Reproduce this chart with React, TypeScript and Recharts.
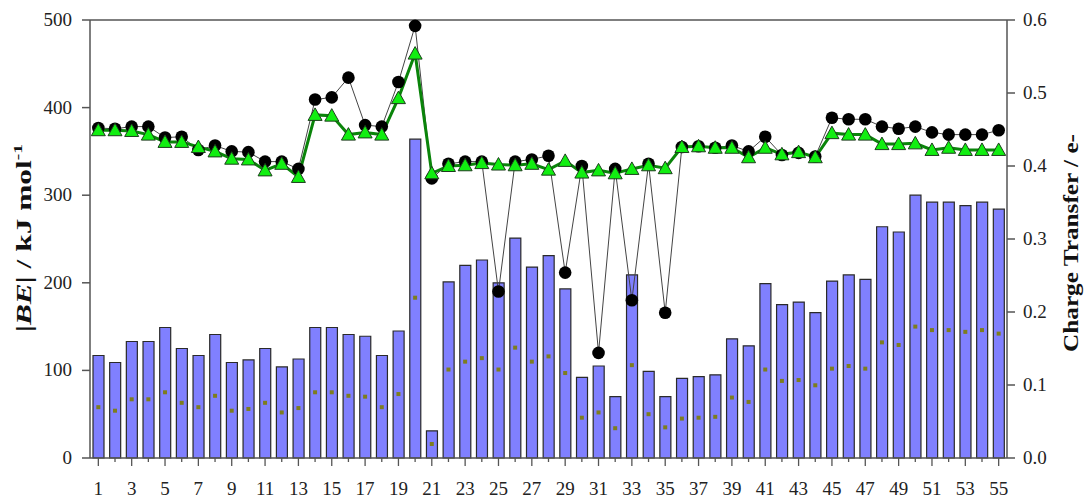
import {
	Bar,
	ComposedChart,
	Line,
	ReferenceLine,
	XAxis,
	YAxis,
} from 'recharts'

const categories = [
	'1', '2', '3', '4', '5', '6', '7', '8', '9', '10',
	'11', '12', '13', '14', '15', '16', '17', '18', '19', '20',
	'21', '22', '23', '24', '25', '26', '27', '28', '29', '30',
	'31', '32', '33', '34', '35', '36', '37', '38', '39', '40',
	'41', '42', '43', '44', '45', '46', '47', '48', '49', '50',
	'51', '52', '53', '54', '55',
]

const tickLabels = [
	'1', '3', '5', '7', '9', '11', '13', '15', '17', '19', '21', '23', '25', '27',
	'29', '31', '33', '35', '37', '39', '41', '43', '45', '47', '49', '51', '53', '55',
]

// |BE| in kJ/mol (bars)
const bindingEnergy = [
	117, 109, 133, 133, 149, 125, 117, 141, 109, 112,
	125, 104, 113, 149, 149, 141, 139, 117, 145, 364,
	31, 201, 220, 226, 200, 251, 218, 231, 193, 92,
	105, 70, 209, 99, 70, 91, 93, 95, 136, 128,
	199, 175, 178, 166, 202, 209, 204, 264, 258, 300,
	292, 292, 288, 292, 284,
]

// small olive markers inside the bars (kJ/mol)
const innerValues = [
	58, 54, 67, 67, 75, 63, 58, 71, 54, 56,
	63, 52, 57, 75, 75, 71, 70, 58, 73, 183,
	16, 101, 110, 114, 101, 126, 110, 116, 97, 46,
	52, 34, 106, 50, 35, 45, 46, 47, 69, 64,
	101, 88, 89, 83, 102, 105, 102, 132, 129, 150,
	146, 146, 144, 146, 142,
]

// charge transfer, black circles (e-)
const chargeBlack = [
	0.452, 0.451, 0.454, 0.454, 0.439, 0.44, 0.422, 0.428, 0.42, 0.419,
	0.406, 0.406, 0.396, 0.491, 0.494, 0.521, 0.456, 0.454, 0.515, 0.592,
	0.383, 0.403, 0.406, 0.406, 0.228, 0.406, 0.409, 0.414, 0.254, 0.4,
	0.144, 0.396, 0.216, 0.403, 0.199, 0.426, 0.427, 0.425, 0.428, 0.42,
	0.44, 0.415, 0.418, 0.413, 0.466, 0.464, 0.464, 0.454, 0.451, 0.454,
	0.446, 0.443, 0.443, 0.443, 0.449,
]

// charge transfer, green triangles (e-)
const chargeGreen = [
	0.449, 0.449, 0.448, 0.443, 0.433, 0.433, 0.426, 0.42, 0.41, 0.409,
	0.394, 0.403, 0.385, 0.47, 0.469, 0.443, 0.446, 0.443, 0.493, 0.554,
	0.39, 0.4, 0.401, 0.404, 0.402, 0.401, 0.403, 0.395, 0.407, 0.391,
	0.394, 0.39, 0.396, 0.401, 0.397, 0.426, 0.427, 0.425, 0.425, 0.412,
	0.425, 0.416, 0.419, 0.412, 0.445, 0.443, 0.443, 0.43, 0.43, 0.431,
	0.422, 0.425, 0.422, 0.422, 0.422,
]

const leftTicks = [0, 100, 200, 300, 400, 500]
const rightTicks = [0, 0.1, 0.2, 0.3, 0.4, 0.5, 0.6]

const data = categories.map((cat, i) => ({
	cat,
	be: bindingEnergy[i],
	inner: innerValues[i],
	black: chargeBlack[i],
	green: chargeGreen[i],
}))

const font = '"Liberation Serif", "Times New Roman", Times, serif'
const axisColor = '#555'
const textStyle = { fontFamily: font }

function XTick(props: any) {
	const { x, y, payload } = props
	const labelled = tickLabels.includes(payload.value)
	return (
		<g>
			<line x1={x} x2={x} y1={y} y2={y + (labelled ? 8 : 4)} stroke={axisColor} strokeWidth={1.3} />
			{labelled && (
				<text x={x} y={y + 37} textAnchor="middle" fontSize={19} style={textStyle} fill="#222">
					{payload.value}
				</text>
			)}
		</g>
	)
}

function LeftTick(props: any) {
	const { x, y, payload } = props
	return (
		<text x={x - 1} y={y + 6} textAnchor="end" fontSize={19} style={textStyle} fill="#222">
			{payload.value}
		</text>
	)
}

function RightTick(props: any) {
	const { x, y, payload } = props
	return (
		<text x={x} y={y + 6} textAnchor="start" fontSize={19} style={textStyle} fill="#222">
			{Number(payload.value).toFixed(1)}
		</text>
	)
}

function CircleDot(props: any) {
	const { cx, cy } = props
	if (cx == null || cy == null) return <g />
	return <circle cx={cx} cy={cy} r={6.3} fill="#000" />
}

function TriangleDot(props: any) {
	const { cx, cy } = props
	if (cx == null || cy == null) return <g />
	return (
		<polygon
			points={`${cx},${cy - 7} ${cx - 7},${cy + 5.5} ${cx + 7},${cy + 5.5}`}
			fill="#11ee11"
			stroke="#1d3d1d"
			strokeWidth={1}
		/>
	)
}

function SquareDot(props: any) {
	const { cx, cy } = props
	if (cx == null || cy == null) return <g />
	return <rect x={cx - 2} y={cy - 2} width={4} height={4} fill="#7d7d1e" />
}

export default function App() {
	return (
		<div style={{ position: 'absolute', left: 0, top: 0, background: '#fff' }}>
			<ComposedChart
				width={1086}
				height={501}
				data={data}
				margin={{ top: 20, right: 0, bottom: 0, left: 0 }}
				barSize={11}
			>
				<XAxis
					dataKey="cat"
					interval={0}
					height={43}
					tickSize={0}
					tickMargin={0}
					tickLine={false}
					tick={<XTick />}
					stroke={axisColor}
					strokeWidth={1.5}
				/>
				<YAxis
					yAxisId="left"
					width={90}
					domain={[0, 500]}
					ticks={leftTicks}
					tickSize={8}
					tickMargin={9}
					stroke={axisColor}
					strokeWidth={1.5}
					tick={<LeftTick />}
					label={{
						content: () => (
							<text
								x={0}
								y={0}
								transform="translate(31,238) rotate(-90)"
								textAnchor="middle"
								fontWeight="bold"
								fontSize={21}
								style={textStyle}
								fill="#111"
								textLength={188}
								lengthAdjust="spacingAndGlyphs"
							>
								|<tspan fontStyle="italic">BE</tspan>| / kJ mol
								<tspan fontSize={13} dy={-9}>-1</tspan>
							</text>
						),
					}}
				/>
				<YAxis
					yAxisId="right"
					orientation="right"
					width={79}
					domain={[0, 0.6]}
					ticks={rightTicks}
					tickSize={8}
					tickMargin={8}
					stroke={axisColor}
					strokeWidth={1.5}
					tick={<RightTick />}
					label={{
						content: () => (
							<text
								x={0}
								y={0}
								transform="translate(1078,243) rotate(-90)"
								textAnchor="middle"
								fontWeight="bold"
								fontSize={22}
								style={textStyle}
								fill="#111"
								textLength={218}
								lengthAdjust="spacingAndGlyphs"
							>
								Charge Transfer / e-
							</text>
						),
					}}
				/>
				<ReferenceLine yAxisId="left" y={500} stroke={axisColor} strokeWidth={1.5} />
				<Bar
					yAxisId="left"
					dataKey="be"
					fill="#8080ff"
					stroke="#2a2a2a"
					strokeWidth={1.2}
					isAnimationActive={false}
				/>
				<Line
					yAxisId="left"
					dataKey="inner"
					stroke="none"
					dot={<SquareDot />}
					activeDot={false}
					isAnimationActive={false}
				/>
				<Line
					yAxisId="right"
					dataKey="black"
					type="linear"
					stroke="#444"
					strokeWidth={1}
					dot={<CircleDot />}
					activeDot={false}
					isAnimationActive={false}
				/>
				<Line
					yAxisId="right"
					dataKey="green"
					type="linear"
					stroke="#0a840a"
					strokeWidth={3}
					dot={<TriangleDot />}
					activeDot={false}
					isAnimationActive={false}
				/>
			</ComposedChart>
		</div>
	)
}
